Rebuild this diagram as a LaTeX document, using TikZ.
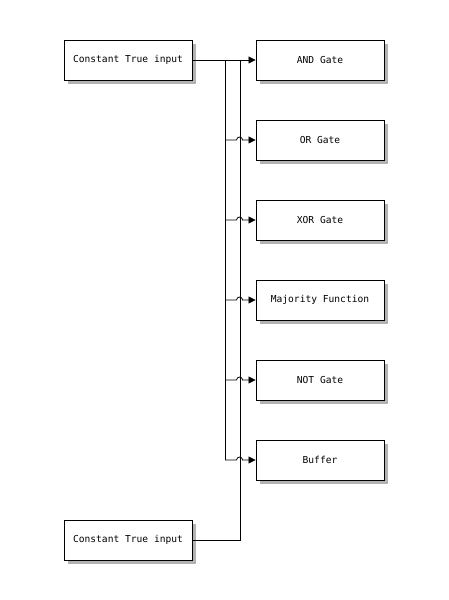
\documentclass[tikz,border=0pt]{standalone}
\usepackage{fontspec}
\setmonofont{DejaVu Sans Mono}
\usetikzlibrary{shadows,arrows.meta}
\tikzset{
  block/.style={rectangle, draw, line width=0.9pt, fill=white,
    minimum width=128pt, minimum height=40pt,
    font=\ttfamily\fontsize{9.6}{11}\selectfont,
    drop shadow={shadow xshift=3.5pt, shadow yshift=-4pt, opacity=0.6}},
  wire/.style={line width=0.8pt},
  sig/.style={wire, -{Triangle[length=7pt,width=7pt]}}
}
\begin{document}
\begin{tikzpicture}[x=1pt,y=1pt]
  \useasboundingbox (0,0) rectangle (448,600);
  % Inputs
  \node (c1) [block] at (128,540) {Constant True input};
  \node (c2) [block] at (128,60) {Constant True input};
  % Gates
  \foreach \name/\txt/\yy in {and/AND Gate/540, or/OR Gate/460, xor/XOR Gate/380,
      maj/Majority Function/300, not/NOT Gate/220, buf/Buffer/140}
    \node (\name) [block] at (320,\yy) {\txt};
  % Branch points
  \coordinate (s) at (225,540);
  \coordinate (j) at (240,540);
  % Wires
  \draw[sig] (c1.east) -- (and.west);
  \draw[wire] (c2.east) -| (j);
  \draw[wire] (s) -- (s |- buf.west);
  \foreach \g in {or,xor,maj,not,buf}
    \draw[sig] (s |- \g.west) -- ([xshift=-19pt]\g.west)
      arc[start angle=180, end angle=0, radius=3pt] -- (\g.west);
\end{tikzpicture}
\end{document}
